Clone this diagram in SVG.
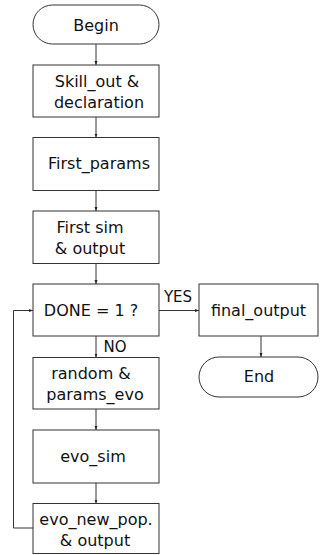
<svg xmlns="http://www.w3.org/2000/svg" width="320" height="555" viewBox="0 0 320 555">
<defs>
<marker id="ah" markerWidth="6" markerHeight="6" refX="4" refY="3" orient="auto" markerUnits="userSpaceOnUse">
<path d="M0,1.5 L4,3 L0,4.5 z" fill="#222"/>
</marker>
<style>
.b{fill:#fff;stroke:#333;stroke-width:1}
.t{font-family:"DejaVu Sans",sans-serif;font-size:16px;fill:#111;text-anchor:middle}
.c{fill:none;stroke:#333;stroke-width:1;marker-end:url(#ah)}
</style>
</defs>
<rect width="320" height="555" fill="#fff"/>
<g id="connectors">
<path class="c" d="M96,44 V65"/>
<path class="c" d="M96,117 V137.5"/>
<path class="c" d="M96,190.5 V211"/>
<path class="c" d="M96,263.5 V284"/>
<path class="c" d="M159,310.5 H199"/>
<path class="c" d="M96,336 V357.5"/>
<path class="c" d="M96,409 V430"/>
<path class="c" d="M96,483 V503.5"/>
<path class="c" d="M33,528 H13.5 V310.5 H33"/>
<path class="c" d="M261,336 V357"/>
<text class="t" x="178" y="302" style="font-size:15px">YES</text>
<text class="t" x="115" y="351.5" style="font-size:15px">NO</text>
</g>
<g id="begin">
<rect class="b" x="33" y="5" width="126" height="39" rx="19.5"/>
<text class="t" x="96" y="31">Begin</text>
</g>
<g id="skill_out">
<rect class="b" x="33" y="65" width="126" height="52"/>
<text class="t" x="97" y="87">Skill_out &amp;</text>
<text class="t" x="99" y="108">declaration</text>
</g>
<g id="first_params">
<rect class="b" x="33" y="137.5" width="126" height="53"/>
<text class="t" x="99" y="169">First_params</text>
</g>
<g id="first_sim">
<rect class="b" x="33" y="211" width="126" height="52.5"/>
<text class="t" x="90" y="233">First sim</text>
<text class="t" x="90" y="254">&amp; output</text>
</g>
<g id="done">
<rect class="b" x="33" y="284" width="126" height="52"/>
<text class="t" x="91" y="316">DONE = 1 ?</text>
</g>
<g id="final_output">
<rect class="b" x="199" y="284" width="119" height="52"/>
<text class="t" x="258.5" y="316">final_output</text>
</g>
<g id="end">
<rect class="b" x="199" y="357" width="119" height="40" rx="20"/>
<text class="t" x="259" y="382">End</text>
</g>
<g id="random">
<rect class="b" x="33" y="357.5" width="126" height="51.5"/>
<text class="t" x="91" y="379">random &amp;</text>
<text class="t" x="95" y="400">params_evo</text>
</g>
<g id="evo_sim">
<rect class="b" x="33" y="430" width="126" height="53"/>
<text class="t" x="93" y="462">evo_sim</text>
</g>
<g id="evo_new_pop">
<rect class="b" x="33" y="503.5" width="126" height="50"/>
<text class="t" x="96" y="525">evo_new_pop.</text>
<text class="t" x="95" y="546">&amp; output</text>
</g>
</svg>
